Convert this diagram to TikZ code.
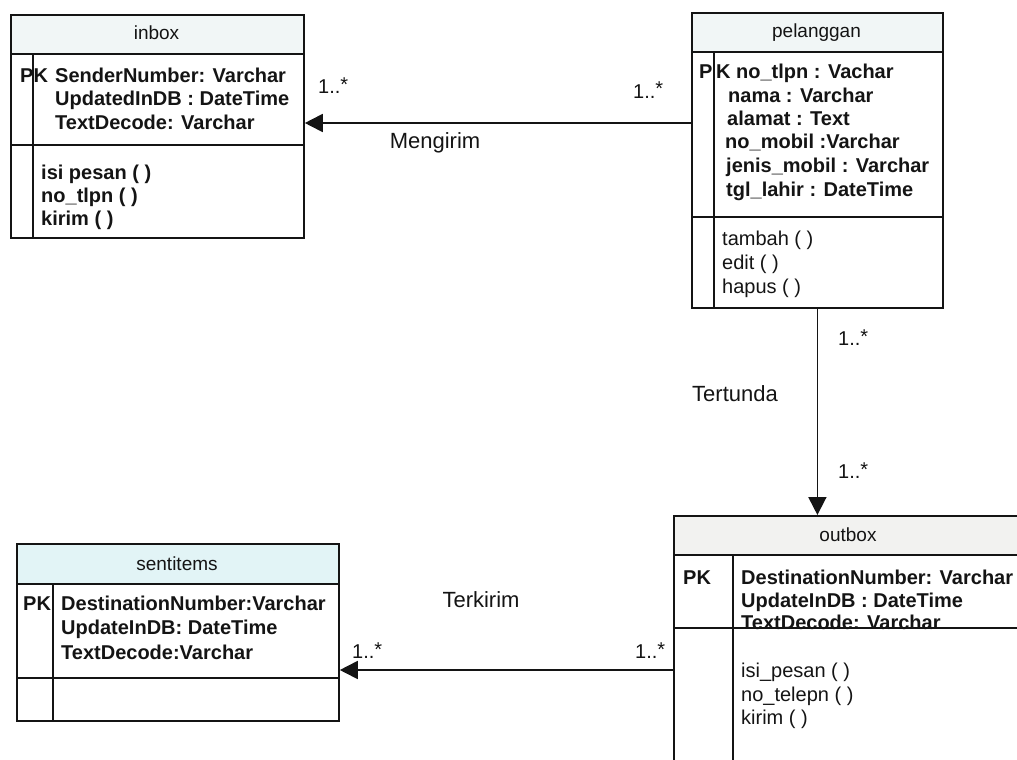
\documentclass[tikz,border=0pt]{standalone}
\usepackage{fontspec}
\setmainfont{Liberation Sans}
\usetikzlibrary{arrows.meta}

\definecolor{hdrA}{HTML}{F1F6F6}
\definecolor{hdrB}{HTML}{E2F4F6}
\definecolor{hdrC}{HTML}{F2F2F0}
\definecolor{ink}{HTML}{141414}

\newcommand{\many}{1..\raisebox{2pt}{*}}

\tikzset{
  frame/.style={draw=ink, line width=1.8pt, inner sep=0pt, anchor=north west},
  rule/.style={draw=ink, line width=1.7pt},
  title/.style={font=\fontsize{19}{22}\selectfont, text=ink, inner sep=0pt, anchor=base},
  field/.style={font=\fontsize{20}{23}\selectfont\bfseries, text=ink, inner sep=0pt, anchor=base west},
  op/.style={font=\fontsize{20}{23}\selectfont, text=ink, inner sep=0pt, anchor=base west},
  opb/.style={op, font=\fontsize{20}{23}\selectfont\bfseries},
  rolename/.style={font=\fontsize{22}{25}\selectfont, text=ink, inner sep=0pt, anchor=base},
  card/.style={font=\fontsize{20}{23}\selectfont, text=ink, inner sep=0pt, anchor=base west},
  assoc/.style={draw=ink, line width=1.8pt, -{Triangle[length=18pt,width=18pt]}}
}

\begin{document}
\begin{tikzpicture}[x=1pt, y=-1pt]
\useasboundingbox (0,0) rectangle (1017,760);
\clip (0,0) rectangle (1017,760);

% ---------- inbox ----------
\fill[hdrA] (10,14) rectangle (303,54);
\node[frame, minimum width=293pt, minimum height=223pt] (inbox) at (10,14) {};
\draw[rule] (10,54) -- (303,54);
\draw[rule] (10,145) -- (303,145);
\draw[rule] (33,54) -- (33,237);
\node[title] (inboxT) at (156.5,40) {inbox};
\node[field] (inboxPK) at (20,82) {PK};
\node[field] (inboxA1) at (55,82) {SenderNumber: Varchar};
\node[field] (inboxA2) at (55,105) {UpdatedInDB : DateTime};
\node[field] (inboxA3) at (55,129) {TextDecode: Varchar};
\node[opb] (inboxM1) at (41,179) {isi pesan ( )};
\node[opb] (inboxM2) at (41,202) {no\_tlpn ( )};
\node[opb] (inboxM3) at (41,225) {kirim ( )};

% ---------- pelanggan ----------
\fill[hdrA] (691,12) rectangle (942,52);
\node[frame, minimum width=251pt, minimum height=295pt] (pel) at (691,12) {};
\draw[rule] (691,52) -- (942,52);
\draw[rule] (691,217) -- (942,217);
\draw[rule] (714,52) -- (714,307);
\node[title] (pelT) at (816.5,38) {pelanggan};
\node[field] (pelPK) at (699,78) {P};
\node[field] (pelA1) at (716,78) {K no\_tlpn : Vachar};
\node[field] (pelA2) at (728,102) {nama : Varchar};
\node[field] (pelA3) at (727,125) {alamat : Text};
\node[field] (pelA4) at (725,148) {no\_mobil :Varchar};
\node[field] (pelA5) at (726,172) {jenis\_mobil : Varchar};
\node[field] (pelA6) at (726,196) {tgl\_lahir : DateTime};
\node[op] (pelM1) at (722,245) {tambah ( )};
\node[op] (pelM2) at (722,269) {edit ( )};
\node[op] (pelM3) at (722,293) {hapus ( )};

% ---------- sentitems ----------
\fill[hdrB] (16,543) rectangle (338,584);
\node[frame, minimum width=322pt, minimum height=177pt] (sent) at (16,543) {};
\draw[rule] (16,584) -- (338,584);
\draw[rule] (16,678) -- (338,678);
\draw[rule] (53,584) -- (53,720);
\node[title] (sentT) at (177,570) {sentitems};
\node[field] (sentPK) at (23,610) {PK};
\node[field] (sentA1) at (61,610) {DestinationNumber:Varchar};
\node[field] (sentA2) at (61,634) {UpdateInDB: DateTime};
\node[field] (sentA3) at (61,659) {TextDecode:Varchar};

% ---------- outbox ----------
\fill[hdrC] (673,515) rectangle (1040,555);
\node[frame, minimum width=367pt, minimum height=275pt] (out) at (673,515) {};
\draw[rule] (673,555) -- (1040,555);
\draw[rule] (733,555) -- (733,790);
\node[title] (outT) at (848,541) {outbox};
\node[field] (outPK) at (683,584) {PK};
\node[field] (outA1) at (741,584) {DestinationNumber: Varchar};
\node[field] (outA2) at (741,607) {UpdateInDB : DateTime};
\node[field] (outA3) at (741,629) {TextDecode: Varchar};
\fill[white] (734.5,629.5) rectangle (1017,640);
\draw[rule] (673,628) -- (1040,628);
\node[op] (outM1) at (741,677) {isi\_pesan ( )};
\node[op] (outM2) at (741,701) {no\_telepn ( )};
\node[op] (outM3) at (741,724) {kirim ( )};

% ---------- associations ----------
\draw[assoc] (pel.west |- 0,123) -- (inbox.east |- 0,123);
\node[rolename] (mengirim) at (435,148) {Mengirim};
\node[card] (m1) at (318,93) {\many};
\node[card] (m2) at (633,98) {\many};

\draw[assoc] (pel.south) -- (pel.south |- out.north);
\node[rolename] (tertunda) at (735,401) {Tertunda};
\node[card] (t1) at (838,345) {\many};
\node[card] (t2) at (838,478) {\many};

\draw[assoc] (out.west |- 0,670) -- (sent.east |- 0,670);
\node[rolename] (terkirim) at (481,607) {Terkirim};
\node[card] (k1) at (352,658) {\many};
\node[card] (k2) at (635,658) {\many};
\end{tikzpicture}
\end{document}
